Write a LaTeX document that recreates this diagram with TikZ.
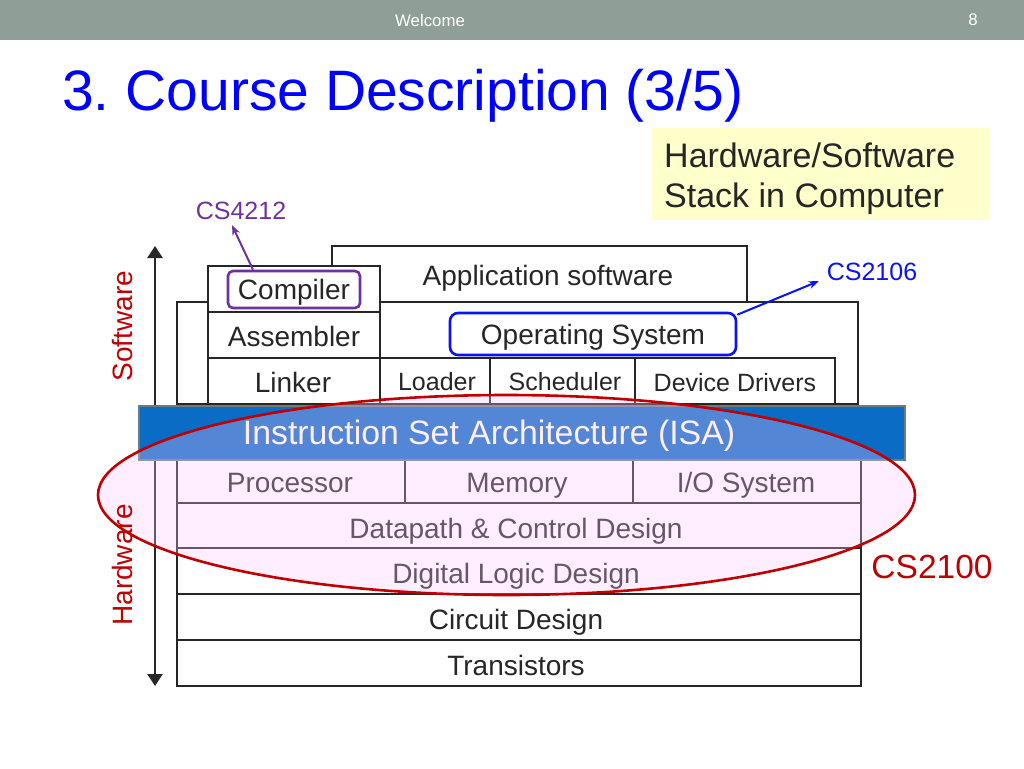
\documentclass[tikz,border=0pt]{standalone}
\usepackage{fontspec}
\setmainfont{Liberation Sans}
\usetikzlibrary{arrows.meta}
\definecolor{hdr}{HTML}{8F9E97}
\definecolor{ttl}{HTML}{0000FF}
\definecolor{ink}{HTML}{262626}
\definecolor{dred}{HTML}{C00000}
\definecolor{purp}{HTML}{7030A0}
\definecolor{osblue}{HTML}{0A14F0}
\definecolor{isablue}{HTML}{0A6CC4}
\definecolor{isaedge}{HTML}{6E7B7B}
\definecolor{yel}{HTML}{FFFFCC}
\definecolor{pinkov}{RGB}{255,200,255}
\begin{document}
\begin{tikzpicture}[x=1pt,y=-1pt,
  lay/.style={draw=ink, line width=2pt, fill=white},
  sep/.style={draw=ink, line width=2pt},
  lbl/.style={text=ink, font=\fontsize{28}{32}\selectfont, inner sep=0pt, text height=20pt, text depth=0pt},
  slbl/.style={text=ink, font=\fontsize{25}{30}\selectfont, inner sep=0pt, text height=18pt, text depth=0pt},
  tag/.style={font=\fontsize{25}{30}\selectfont, inner sep=0pt, text height=18pt, text depth=0pt},
  side/.style={rotate=90, text=dred, font=\fontsize{28}{32}\selectfont, inner sep=0pt, text height=20pt, text depth=0pt},
  ptr/.style={line width=2pt, -{Stealth[length=10pt,width=8pt]}},
  bigtip/.style={{Triangle[length=12pt,width=15pt]}-{Triangle[length=12pt,width=15pt]}},
]
\useasboundingbox (0,0) rectangle (1024,768);
\fill[white] (0,0) rectangle (1024,768);
% header
\fill[hdr] (0,0) rectangle (1024,40);
\node[text=white, font=\fontsize{16.8}{20}\selectfont] (welcome) at (430,20) {Welcome};
\node[text=white, font=\fontsize{16.8}{20}\selectfont] (pnum) at (973,20) {8};
% title
\node[anchor=base west, text=ttl, font=\fontsize{57}{60}\selectfont\frenchspacing, inner sep=0pt] (title) at (62,110) {3.\ Course Description (3/5)};
% note box
\fill[yel] (652,128) rectangle (990,220);
\node[anchor=base west, text=ink, font=\fontsize{34}{40}\selectfont, inner sep=0pt] (note1) at (664,167) {Hardware/Software};
\node[anchor=base west, text=ink, font=\fontsize{34}{40}\selectfont, inner sep=0pt] (note2) at (664,207) {Stack in Computer};

% software layers
\draw[lay] (177,302) rectangle (858,404);
\draw[lay] (332,246) rectangle (747,302);
\draw[lay] (208,266) rectangle (380,404);
\draw[sep] (208,312) -- (380,312) (208,358) -- (380,358);
\draw[lay] (380,358) rectangle (835,404);
\draw[sep] (490,358) -- (490,404) (635,358) -- (635,404);

\node[lbl] (app) at (548,275) {Application software};
\node[lbl, draw=purp, line width=2.6pt, rounded corners=5pt, minimum width=132pt, minimum height=37pt] (comp) at (294,289.5) {Compiler};
\node[lbl] (asm) at (294,336) {Assembler};
\node[lbl] (link) at (293,382) {Linker};
\node[lbl, draw=osblue, line width=2.6pt, rounded corners=8pt, minimum width=286pt, minimum height=42pt] (os) at (593,334) {Operating System};
\node[slbl] (load) at (437,381) {Loader};
\node[slbl] (sched) at (565,381) {Scheduler};
\node[slbl] (dev) at (735,382) {Device Drivers};

% hardware layers
\draw[lay] (177,459) rectangle (861,686);
\draw[sep] (177,503) -- (861,503) (177,548) -- (861,548) (177,594) -- (861,594) (177,640) -- (861,640);
\draw[sep] (405,459) -- (405,503) (633,459) -- (633,503);
\node[lbl] (proc) at (290,482) {Processor};
\node[lbl] (mem) at (517,482) {Memory};
\node[lbl] (io) at (746,482) {I/O System};
\node[lbl] (dp) at (516,528) {Datapath \& Control Design};
\node[lbl] (dl) at (516,573) {Digital Logic Design};
\node[lbl] (cd) at (516,619) {Circuit Design};
\node[lbl] (tr) at (516,665) {Transistors};

% vertical arrow
\coordinate (atop) at (155,246);
\coordinate (abot) at (155,686);
\draw[ink, line width=2.6pt, bigtip] (atop) -- (abot);

% ISA bar
\node[draw=isaedge, line width=2.4pt, fill=isablue, minimum width=766pt, minimum height=54pt, anchor=north west, inner sep=0pt] (isabar) at (138,405) {};
\node[text=white, font=\fontsize{33.8}{38}\selectfont, inner sep=0pt, text height=24pt, text depth=0pt] (isa) at (489,432) {Instruction Set Architecture (ISA)};

% CS2100 ellipse
\draw[dred, line width=2.6pt, fill=pinkov, fill opacity=0.3] (506.5,495) ellipse [x radius=408.5pt, y radius=100pt];

% side labels
\node[side] (sw) at (122,326) {Software};
\node[side] (hw) at (122,565) {Hardware};

% course tags
\node[tag, text=purp] (cs4212) at (241,210) {CS4212};
\node[tag, text=osblue] (cs2106) at (872,271) {CS2106};
\node[text=dred, font=\fontsize{33.5}{38}\selectfont, inner sep=0pt, text height=24pt, text depth=0pt] (cs2100) at (932,566) {CS2100};

\draw[ptr, purp] ([xshift=-41pt]comp.north) -- ([xshift=-9pt,yshift=-6pt]cs4212.south);
\draw[ptr, osblue] ([yshift=-3pt]os.north east) -- ([xshift=-8pt,yshift=-1pt]cs2106.south west);
\end{tikzpicture}
\end{document}
